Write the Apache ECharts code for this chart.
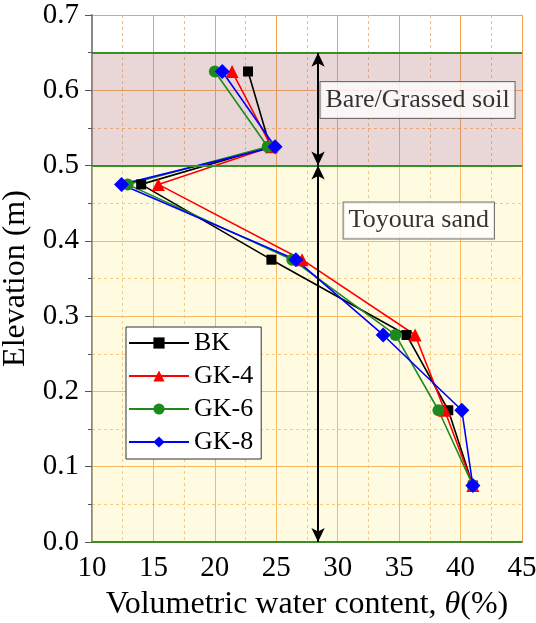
<!DOCTYPE html>
<html>
<head>
<meta charset="utf-8">
<script src="https://cdn.jsdelivr.net/npm/echarts@6/dist/echarts.min.js"></script>
<style>
  html, body { margin: 0; padding: 0; background: #fff; }
  #chart { width: 536px; height: 623px; }
</style>
</head>
<body>
<div id="chart"></div>
<script>
// Measured water content profiles (elevation in m, water content in %)
const elevation = [0.625, 0.525, 0.475, 0.375, 0.275, 0.175, 0.075];
const bk  = [22.7, 24.5, 14.0, 24.6, 35.6, 39.0, 41.0];
const gk4 = [21.4, 24.6, 15.4, 27.1, 36.3, 38.7, 41.0];
const gk6 = [20.0, 24.3, 12.9, 26.3, 34.7, 38.2, 41.0];
const gk8 = [20.6, 24.9, 12.4, 26.6, 33.7, 40.1, 41.0];

const seriesNames = ['BK', 'GK-4', 'GK-6', 'GK-8'];
const seriesValues = [bk, gk4, gk6, gk8];

// Soil layers and annotation positions (data coordinates)
const layerSoil = [0.5, 0.65];
const layerSand = [0.0, 0.5];
const arrowX = 28.4;
const labelSoil = { text: 'Bare/Grassed soil', x: 36.5, y: 0.587 };
const labelSand = { text: 'Toyoura sand', x: 36.6, y: 0.427 };

const FONT = '"Liberation Serif", "Times New Roman", serif';
const colors = ['#000000', '#ff0000', '#1e8a1e', '#0000ff'];
const symbols = ['rect', 'triangle', 'circle', 'diamond'];
const symbolSizes = [10, 13, 12, 15];

const chart = echarts.init(document.getElementById('chart'));

const dataSeries = seriesNames.map((name, i) => ({
  name: name,
  type: 'line',
  z: 3,
  data: seriesValues[i].map((v, k) => [v, elevation[k]]),
  symbol: symbols[i],
  symbolSize: symbolSizes[i],
  lineStyle: { color: colors[i], width: 1.6 },
  itemStyle: { color: colors[i] }
}));

const boxLabel = {
  show: true,
  position: 'inside',
  fontFamily: FONT,
  fontSize: 26,
  lineHeight: 26,
  color: '#000',
  backgroundColor: '#fff',
  borderColor: '#555',
  borderWidth: 1,
  padding: [6, 5, 4, 5],
  formatter: p => p.name
};

const option = {
  animation: false,
  textStyle: { fontFamily: FONT },
  grid: { left: 92, right: 14, top: 15, bottom: 81, containLabel: false, outerBoundsMode: 'none' },
  xAxis: {
    type: 'value', min: 10, max: 45, interval: 5,
    name: 'Volumetric water content, {i|θ}(%)',
    nameLocation: 'middle', nameGap: 47,
    nameTextStyle: {
      fontFamily: FONT, fontSize: 32, color: '#000',
      rich: { i: { fontFamily: FONT, fontSize: 32, fontStyle: 'italic', color: '#000' } }
    },
    axisLine: { lineStyle: { color: '#888', width: 2 } },
    axisTick: { show: false },
    axisLabel: { fontFamily: FONT, fontSize: 29, color: '#000', margin: 12 },
    splitLine: { show: true, lineStyle: { color: '#f4a14c', width: 1 } },
    minorTick: { show: false, splitNumber: 2 },
    minorSplitLine: { show: true, lineStyle: { color: '#f7b878', width: 1, type: [3, 3] } }
  },
  yAxis: {
    type: 'value', min: 0, max: 0.7, interval: 0.1,
    name: 'Elevation (m)',
    nameLocation: 'middle', nameGap: 59,
    nameTextStyle: { fontFamily: FONT, fontSize: 32, color: '#000' },
    axisLine: { show: true, lineStyle: { color: '#888', width: 2 } },
    axisTick: { show: true, inside: false, length: 7, lineStyle: { color: '#555' } },
    minorTick: { show: true, splitNumber: 2, length: 4, lineStyle: { color: '#555' } },
    axisLabel: { fontFamily: FONT, fontSize: 29, color: '#000', margin: 13, formatter: v => v.toFixed(1) },
    splitLine: { show: true, lineStyle: { color: '#f4a14c', width: 1 } },
    minorSplitLine: { show: true, lineStyle: { color: '#f7b878', width: 1, type: [3, 3] } }
  },
  legend: {
    data: seriesNames,
    orient: 'vertical',
    left: 126, top: 327,
    itemWidth: 60, itemHeight: 14, itemGap: 7,
    padding: [3, 8, 4, 2],
    backgroundColor: '#fff',
    borderColor: '#333', borderWidth: 1,
    textStyle: { fontFamily: FONT, fontSize: 26, lineHeight: 26, color: '#000' }
  },
  series: [
    // translucent layer fills so the grid shows through
    {
      type: 'line', z: 0, data: [], silent: true,
      markArea: {
        silent: true,
        data: [
          [{ yAxis: layerSoil[0], itemStyle: { color: 'rgba(192,138,138,0.35)' } }, { yAxis: layerSoil[1] }],
          [{ yAxis: layerSand[0], itemStyle: { color: 'rgba(255,242,152,0.3)' } }, { yAxis: layerSand[1] }]
        ]
      }
    },
    // layer boundaries and thickness arrows
    {
      type: 'line', z: 2, data: [], silent: true,
      markLine: {
        silent: true, symbol: 'none', label: { show: false },
        lineStyle: { color: '#3c8c28', width: 2, type: 'solid' },
        data: [{ yAxis: layerSoil[1] }, { yAxis: layerSand[1] }, { yAxis: layerSand[0] }]
      }
    },
    {
      type: 'line', z: 2.5, data: [], silent: true,
      markLine: {
        silent: true, symbol: ['arrow', 'arrow'], symbolSize: [10, 14],
        label: { show: false },
        lineStyle: { color: '#000', width: 2, type: 'solid' },
        data: [
          [{ coord: [arrowX, layerSoil[1]] }, { coord: [arrowX, layerSoil[0]] }],
          [{ coord: [arrowX, layerSand[1]] }, { coord: [arrowX, layerSand[0]] }]
        ]
      }
    },
    ...dataSeries,
    // annotation boxes
    {
      type: 'scatter', z: 4, silent: true, symbolSize: 1,
      itemStyle: { color: 'rgba(0,0,0,0)' },
      label: boxLabel,
      data: [
        { name: labelSoil.text, value: [labelSoil.x, labelSoil.y] },
        { name: labelSand.text, value: [labelSand.x, labelSand.y] }
      ]
    }
  ]
};

chart.setOption(option);
</script>
</body>
</html>
